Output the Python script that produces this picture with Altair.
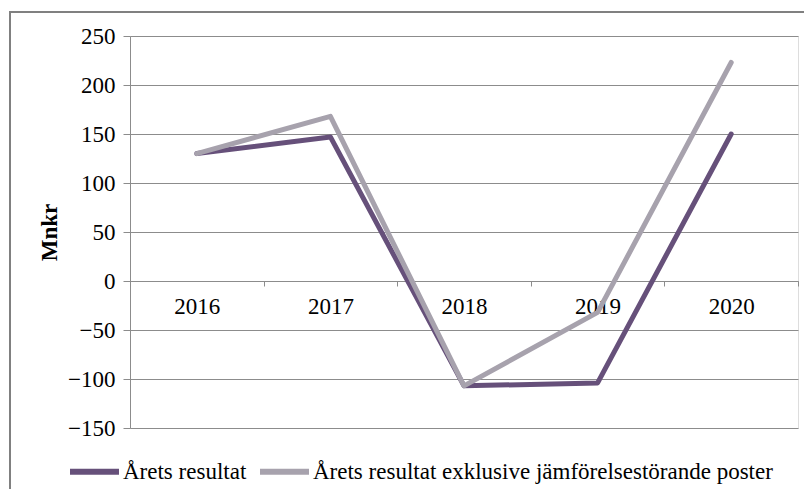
import altair as alt
import pandas as pd

years = ["2016", "2017", "2018", "2019", "2020"]
series_names = ["Årets resultat", "Årets resultat exklusive jämförelsestörande poster"]
resultat = [130, 147, -107, -104, 150]
exkl = [130, 168, -107, -32, 223]
colors = ["#66507a", "#a7a2ad"]

rows = []
for y, v in zip(years, resultat):
    rows.append({"year": y, "value": v, "serie": series_names[0], "ord": 0})
for y, v in zip(years, exkl):
    rows.append({"year": y, "value": v, "serie": series_names[1], "ord": 1})
df = pd.DataFrame(rows)

W, H = 668, 392
FONT = "Liberation Serif"
FS = 23

x_enc = alt.X(
    "year:N",
    sort=years,
    scale=alt.Scale(paddingInner=0, paddingOuter=0),
    axis=alt.Axis(
        title=None,
        offset=-H * 150 / 400,
        domainColor="#8c8c8c",
        tickColor="#8c8c8c",
        tickBand="extent",
        tickSize=5,
        labelAngle=0,
        labelPadding=9,
        labelFont=FONT,
        labelFontSize=FS,
        labelColor="#000000",
        grid=False,
    ),
)

y_enc = alt.Y(
    "value:Q",
    scale=alt.Scale(domain=[-150, 250], nice=False, zero=False),
    axis=alt.Axis(
        title="Mnkr",
        titleFont=FONT,
        titleFontSize=FS,
        titleFontWeight="bold",
        titleColor="#000000",
        titlePadding=6,
        values=[-150, -100, -50, 0, 50, 100, 150, 200, 250],
        domainColor="#8c8c8c",
        tickColor="#8c8c8c",
        tickSize=7,
        labelFont=FONT,
        labelFontSize=FS,
        labelColor="#000000",
        labelPadding=8,
        grid=True,
        gridColor="#8c8c8c",
        gridWidth=1,
    ),
)

lines = alt.Chart(df).mark_line(strokeWidth=5, strokeCap="round", strokeJoin="round").encode(
    x=x_enc,
    y=y_enc,
    color=alt.Color(
        "serie:N",
        sort=series_names,
        scale=alt.Scale(domain=series_names, range=colors),
        legend=alt.Legend(
            title=None,
            orient="none",
            legendX=-63,
            legendY=408,
            direction="horizontal",
            symbolType="stroke",
            symbolSize=2400,
            symbolStrokeWidth=6,
            labelFont=FONT,
            labelFontSize=FS,
            labelColor="#000000",
            labelOffset=1,
            columnPadding=1,
            labelLimit=700,
        ),
    ),
    order=alt.Order("ord:Q"),
)

border = alt.Chart(df).mark_rect(fill=None, stroke="#808080", strokeWidth=1.5, clip=False).encode(
    x=alt.value(-120),
    x2=alt.value(700),
    y=alt.value(-24),
    y2=alt.value(480),
)

chart = alt.layer(border, lines).properties(
    width=W,
    height=H,
    autosize=alt.AutoSizeParams(type="none"),
    padding={"left": 122, "top": 28, "right": 6, "bottom": 61},
).configure_view(stroke=None).configure(background="#ffffff")

chart.save("out.html", embed_options={"renderer": "svg", "actions": False})
